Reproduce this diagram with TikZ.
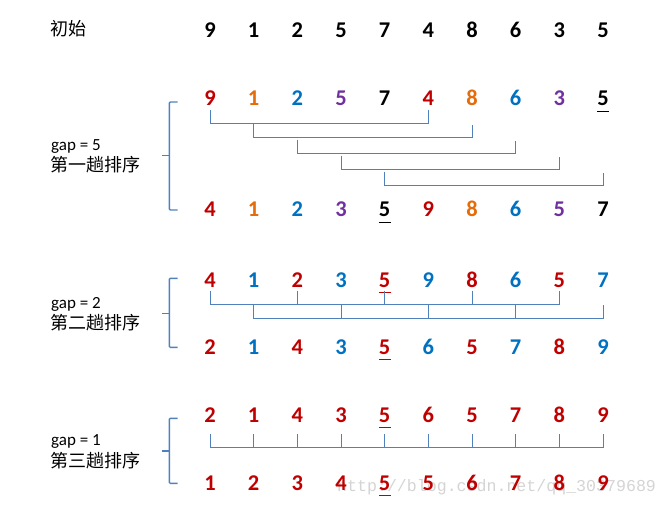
\documentclass[tikz,border=0pt]{standalone}
\usepackage{fontspec}
\setmainfont{Carlito}
\newfontfamily\cjk{Noto Sans CJK SC}
\newfontfamily\wmfont{Liberation Mono}
\definecolor{cR}{HTML}{C00000}
\definecolor{cO}{HTML}{E46C0A}
\definecolor{cB}{HTML}{0070C0}
\definecolor{cP}{HTML}{7030A0}
\definecolor{cK}{HTML}{000000}
\definecolor{lineblue}{HTML}{4F81BD}
\definecolor{wmgray}{HTML}{D4D4D4}
\tikzset{
  dig/.style={inner sep=0pt, anchor=base, font=\fontsize{22.5}{22.5}\selectfont\bfseries},
  bline/.style={draw=lineblue, line width=1pt},
  bracestyle/.style={draw=lineblue, line width=1.4pt, rounded corners=1pt},
  lab/.style={inner sep=0pt, anchor=base west, font=\fontsize{17}{17}\selectfont},
  cjklab/.style={inner sep=0pt, anchor=base west, font=\cjk\fontsize{18}{18}\selectfont},
  uline/.style={line width=1.5pt},
  wm/.style={inner sep=0pt, anchor=base west, text=wmgray, font=\wmfont\fontsize{16.6}{16.6}\selectfont}
}
\begin{document}
\begin{tikzpicture}[x=1pt,y=-1pt]
\useasboundingbox (0,0) rectangle (668,508);
% watermark
\node[wm] (wm) at (337,491.7) {http://blog.csdn.net/qq\_30379689};
% labels
\node[cjklab] (l0) at (50,36) {初始};
\node[lab] (l1a) at (51,150.7) {gap = 5};
\node[cjklab] (l1b) at (50,171.5) {第一趟排序};
\node[lab] (l2a) at (51,308.5) {gap = 2};
\node[cjklab] (l2b) at (50,329) {第二趟排序};
\node[lab] (l3a) at (51,445) {gap = 1};
\node[cjklab] (l3b) at (50,467) {第三趟排序};
% digit rows
\foreach \v [count=\i] in {9,1,2,5,7,4,8,6,3,5}
  \node[dig,text=cK] (a\i) at ({210+43.667*(\i-1)},37.3) {\v};
\foreach \v/\c [count=\i] in {9/cR,1/cO,2/cB,5/cP,7/cK,4/cR,8/cO,6/cB,3/cP,5/cK}
  \node[dig,text=\c] (b\i) at ({210+43.667*(\i-1)},106) {\v};
\foreach \v/\c [count=\i] in {4/cR,1/cO,2/cB,3/cP,5/cK,9/cR,8/cO,6/cB,5/cP,7/cK}
  \node[dig,text=\c] (c\i) at ({210+43.667*(\i-1)},216.7) {\v};
\foreach \v/\c [count=\i] in {4/cR,1/cB,2/cR,3/cB,5/cR,9/cB,8/cR,6/cB,5/cR,7/cB}
  \node[dig,text=\c] (d\i) at ({210+43.667*(\i-1)},287) {\v};
\foreach \v/\c [count=\i] in {2/cR,1/cB,4/cR,3/cB,5/cR,6/cB,5/cR,7/cB,8/cR,9/cB}
  \node[dig,text=\c] (e\i) at ({210+43.667*(\i-1)},354) {\v};
\foreach \v [count=\i] in {2,1,4,3,5,6,5,7,8,9}
  \node[dig,text=cR] (f\i) at ({210+43.667*(\i-1)},422) {\v};
\foreach \v [count=\i] in {1,2,3,4,5,5,6,7,8,9}
  \node[dig,text=cR] (g\i) at ({210+43.667*(\i-1)},490) {\v};
% underlines
\draw[uline,cK] ([yshift=-5.6pt]b10.base west) -- ([yshift=-5.6pt]b10.base east);
\draw[uline,cK] ([yshift=-5.6pt]c5.base west) -- ([yshift=-5.6pt]c5.base east);
\draw[uline,cR] ([yshift=-5.6pt]d5.base west) -- ([yshift=-5.6pt]d5.base east);
\draw[uline,cR] ([yshift=-5.6pt]e5.base west) -- ([yshift=-5.6pt]e5.base east);
\draw[uline,cR] ([yshift=-5.6pt]f5.base west) -- ([yshift=-5.6pt]f5.base east);
\draw[uline,cR] ([yshift=-5.6pt]g5.base west) -- ([yshift=-5.6pt]g5.base east);
% gap 5 brackets
\draw[bline] (b1 |- 0,110) -- (b1 |- 0,123.3) -- (b6 |- 0,123.3) -- (b6 |- 0,110);
\draw[bline] (b2 |- 0,124) -- (b2 |- 0,137.3) -- (b7 |- 0,137.3) -- (b7 |- 0,125);
\draw[bline] (b3 |- 0,139.5) -- (b3 |- 0,153) -- (b8 |- 0,153) -- (b8 |- 0,141);
\draw[bline] (b4 |- 0,155.5) -- (b4 |- 0,169) -- (b9 |- 0,169) -- (b9 |- 0,157);
\draw[bline] (b5 |- 0,171.5) -- (b5 |- 0,185.3) -- (b10 |- 0,185.3) -- (b10 |- 0,173);
% gap 2 brackets
\draw[bline] (d1 |- 0,290.5) -- (d1 |- 0,304) -- (d9 |- 0,304) -- (d9 |- 0,290.5);
\foreach \k in {3,5,7} \draw[bline] (d\k |- 0,290.5) -- (d\k |- 0,304);
\draw[bline] (d2 |- 0,305) -- (d2 |- 0,318.3) -- (d10 |- 0,318.3) -- (d10 |- 0,305);
\foreach \k in {4,6,8} \draw[bline] (d\k |- 0,304) -- (d\k |- 0,318.3);
% gap 1 bracket
\draw[bline] (f1 |- 0,434) -- (f1 |- 0,447.7) -- (f10 |- 0,447.7) -- (f10 |- 0,434);
\foreach \k in {2,...,9} \draw[bline] (f\k |- 0,434) -- (f\k |- 0,447.7);
% braces
\draw[bracestyle] (177.7,102) -- (169.3,102) -- (169.3,210) -- (177.7,210);
\draw[bracestyle] (161.7,155.7) -- (169.3,155.7);
\draw[bracestyle] (177.7,278.3) -- (169.3,278.3) -- (169.3,347.3) -- (177.7,347.3);
\draw[bracestyle] (161.7,313.3) -- (169.3,313.3);
\draw[bracestyle] (177.7,418.3) -- (169.3,418.3) -- (169.3,483.3) -- (177.7,483.3);
\draw[bracestyle] (161.7,451) -- (169.3,451);
\end{tikzpicture}
\end{document}
